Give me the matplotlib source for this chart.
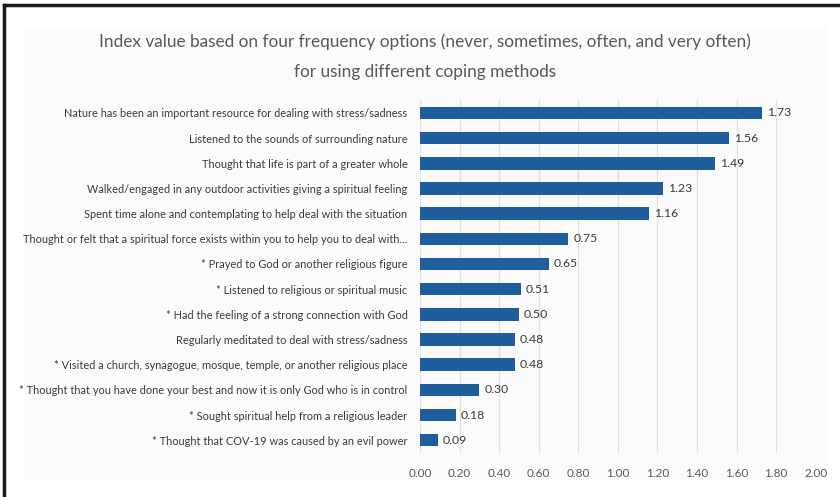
import matplotlib.pyplot as plt
from matplotlib.patches import Rectangle
from matplotlib.lines import Line2D

plt.rcParams['font.family'] = ['Lato', 'DejaVu Sans']

labels = [
    "Nature has been an important resource for dealing with stress/sadness",
    "Listened to the sounds of surrounding nature",
    "Thought that life is part of a greater whole",
    "Walked/engaged in any outdoor activities giving a spiritual feeling",
    "Spent time alone and contemplating to help deal with the situation",
    "Thought or felt that a spiritual force exists within you to help you to deal with...",
    "* Prayed to God or another religious figure",
    "* Listened to religious or spiritual music",
    "* Had the feeling of a strong connection with God",
    "Regularly meditated to deal with stress/sadness",
    "* Visited a church, synagogue, mosque, temple, or another religious place",
    "* Thought that you have done your best and now it is only God who is in control",
    "* Sought spiritual help from a religious leader",
    "* Thought that COV-19 was caused by an evil power",
]
values = [1.73, 1.56, 1.49, 1.23, 1.16, 0.75, 0.65, 0.51, 0.50, 0.48, 0.48, 0.30, 0.18, 0.09]
xticks = [0.0, 0.2, 0.4, 0.6, 0.8, 1.0, 1.2, 1.4, 1.6, 1.8, 2.0]

fig = plt.figure(figsize=(8.4, 4.97), dpi=100)
fig.patch.set_facecolor('white')

# light panel and black border lines
fig.patches.append(Rectangle((24/840, 1-480/497), 803/840, 453/497,
                             transform=fig.transFigure, facecolor='#fbfbfb',
                             edgecolor='none', zorder=-10))
fig.lines.append(Line2D([4/840, 4/840], [0, 1-5/497], transform=fig.transFigure,
                        color='#1a1a1a', lw=2.5))
fig.lines.append(Line2D([4/840, 1], [1-5/497, 1-5/497], transform=fig.transFigure,
                        color='#1a1a1a', lw=2.5))

ax = fig.add_axes([0.5, 0.089, 0.471, 0.709])
ax.set_facecolor('none')
y = list(range(len(values)))
ax.barh(y, values, height=0.5, color='#1f5e9c', zorder=3)
for yi, v in zip(y, values):
    ax.text(v + 0.025, yi, f"{v:.2f}", va='center', ha='left', fontsize=8.8, color='#3a3a3a')

ax.set_ylim(len(values) - 0.5, -0.5)
ax.set_xlim(0, 2.0)
ax.set_xticks(xticks)
ax.set_xticklabels([f"{t:.2f}" for t in xticks], fontsize=8.5, color='#595959')
ax.set_yticks(y)
ax.set_yticklabels(labels, fontsize=7.9, color='#3a3a3a')
ax.tick_params(axis='both', length=0, pad=9)
ax.tick_params(axis='x', pad=11)
ax.grid(axis='x', color='#e0e0e0', lw=0.9, zorder=0)
for s in ax.spines.values():
    s.set_visible(False)

fig.text(0.506, 1-42/497, "Index value based on four frequency options (never, sometimes, often, and very often)",
         ha='center', va='center', fontsize=12.4, color='#595959')
fig.text(0.506, 1-72/497, "for using different coping methods",
         ha='center', va='center', fontsize=12.4, color='#595959')

fig.savefig('out.png', dpi=100)
